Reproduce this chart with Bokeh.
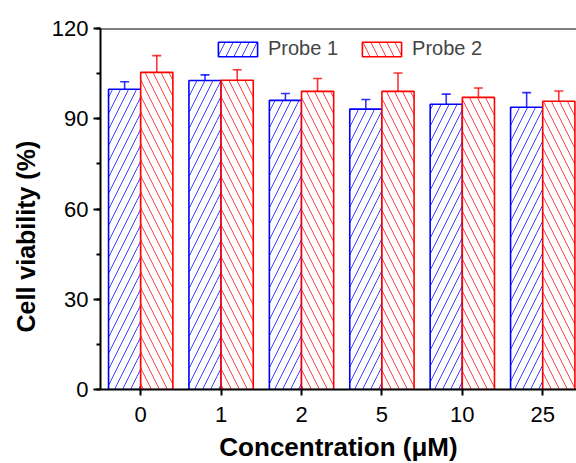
from bokeh.plotting import figure
from bokeh.models import (Range1d, FixedTicker, SingleIntervalTicker, Whisker,
                          TeeHead, ColumnDataSource, Legend, LegendItem, Span,
                          Title, Label)
from bokeh.embed import file_html
from bokeh.resources import INLINE
import numpy as np

# Cell viability after incubation with each probe
concentrations = ["0", "1", "2", "5", "10", "25"]
probe1_mean = [99.8, 102.7, 96.1, 93.2, 94.8, 93.8]
probe1_err = [2.5, 1.9, 2.3, 3.2, 3.4, 4.9]
probe2_mean = [105.4, 102.8, 99.1, 99.1, 97.1, 95.8]
probe2_err = [5.6, 3.5, 4.3, 6.1, 3.1, 3.4]

FONT = "Liberation Sans"
BLUE = "#0000FF"
RED = "#FF0000"
BAR_W = 0.4

idx = np.arange(len(concentrations))
src1 = ColumnDataSource(dict(x=idx - BAR_W / 2, top=probe1_mean,
                             upper=np.array(probe1_mean) + np.array(probe1_err)))
src2 = ColumnDataSource(dict(x=idx + BAR_W / 2, top=probe2_mean,
                             upper=np.array(probe2_mean) + np.array(probe2_err)))

x_range = Range1d(-0.5, 5.42)
y_range = Range1d(0, 120)
p = figure(width=576, height=463, output_backend="svg", toolbar_location=None,
           x_range=x_range, y_range=y_range,
           min_border_left=100, min_border_right=0, min_border_top=28,
           min_border_bottom=74)
p.outline_line_color = None
p.grid.grid_line_color = None
p.background_fill_color = "white"

# Bars with diagonal hatching
r1 = p.vbar(x="x", top="top", width=BAR_W, source=src1, fill_color="white",
            line_color=BLUE, line_width=1.6, hatch_pattern="/",
            hatch_color=BLUE, hatch_scale=16, hatch_weight=1, hatch_alpha=0.75)
r2 = p.vbar(x="x", top="top", width=BAR_W, source=src2, fill_color="white",
            line_color=RED, line_width=1.6, hatch_pattern="\\",
            hatch_color=RED, hatch_scale=16, hatch_weight=1, hatch_alpha=0.75)

# Upper error bars
for src, col in ((src1, BLUE), (src2, RED)):
    w = Whisker(base="x", lower="top", upper="upper", source=src,
                line_color=col, line_width=1.6, line_alpha=0.8,
                upper_head=TeeHead(size=9, line_color=col, line_width=1.6,
                                   line_alpha=0.8),
                lower_head=None)
    p.add_layout(w)

# Top frame line
p.add_layout(Span(location=y_range.end, dimension="width", line_color="black",
                  line_width=2))

# Axes
p.xaxis.ticker = FixedTicker(ticks=list(idx))
p.xaxis.major_label_overrides = {int(i): c for i, c in zip(idx, concentrations)}
p.xaxis.minor_tick_line_color = None
p.yaxis.ticker = SingleIntervalTicker(interval=30, num_minor_ticks=2)

for ax in (p.xaxis, p.yaxis):
    ax.axis_line_width = 2
    ax.axis_line_color = "black"
    ax.major_tick_line_width = 2
    ax.minor_tick_line_width = 2
    ax.major_tick_in = 0
    ax.minor_tick_in = 0
    ax.major_label_text_font = FONT
    ax.major_label_text_font_size = "22px"
    ax.major_label_text_color = "black"

p.xaxis.major_tick_out = 6
p.yaxis.major_tick_out = 7
p.yaxis.minor_tick_out = 4
p.xaxis.major_label_standoff = 11
p.yaxis.major_label_standoff = 5

# X title, placed in the panel under the axis
p.add_layout(Label(x=(x_range.start + x_range.end) / 2, y=y_range.start,
                   y_offset=-57, text="Concentration (μM)", text_align="center",
                   text_baseline="alphabetic", text_font=FONT,
                   text_font_size="26px", text_font_style="bold",
                   text_color="black"), "below")

# Y title, set a little below the middle of the frame
p.add_layout(Title(text="Cell viability (%)", align="left", offset=57,
                   standoff=17, text_font=FONT, text_font_size="25px",
                   text_font_style="bold", text_color="black"), "left")

legend = Legend(items=[LegendItem(label="Probe 1", renderers=[r1]),
                       LegendItem(label="Probe 2", renderers=[r2])],
                orientation="horizontal", location=(113, 329),
                glyph_width=49, glyph_height=18, label_standoff=6, spacing=19,
                padding=0, margin=0, border_line_color=None,
                background_fill_alpha=0, label_text_font=FONT,
                label_text_font_size="20px", label_height=18)
p.add_layout(legend, "center")

open("out.html", "w").write(file_html(p, INLINE))
